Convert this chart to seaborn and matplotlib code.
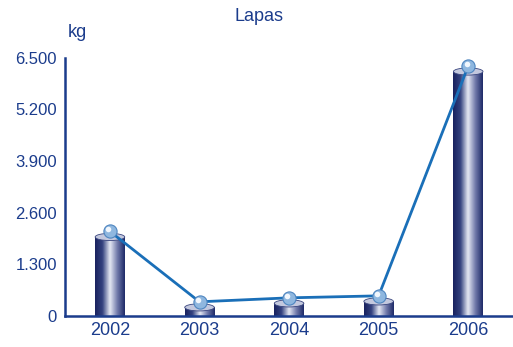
import numpy as np
import pandas as pd
import matplotlib
matplotlib.use('Agg')
import matplotlib.pyplot as plt
import matplotlib.transforms as mtransforms
from matplotlib.colors import LinearSegmentedColormap
from matplotlib.patches import Ellipse
import seaborn as sns

# данные
years = ['2002', '2003', '2004', '2005', '2006']
kg = [1990, 220, 320, 370, 6150]
y_ticks = [0, 1300, 2600, 3900, 5200, 6500]
y_labels = ['0', '1.300', '2.600', '3.900', '5.200', '6.500']

navy = '#1b3c8c'
line_blue = '#1a6fb8'

sns.set_style('white')
plt.rcParams['font.family'] = ['Liberation Sans', 'DejaVu Sans']

df = pd.DataFrame({'year': years, 'kg': kg})

fig = plt.figure(figsize=(5.13, 3.47), dpi=100)
ax = fig.add_axes([0.127, 0.089, 0.873, 0.745])

sns.barplot(data=df, x='year', y='kg', width=0.33, color='#1b2466',
            saturation=1, ax=ax, zorder=2)

# градиент "цилиндра"
cyl = LinearSegmentedColormap.from_list(
    'cyl', ['#18215e', '#34427f', '#e6e9f4', '#7079aa', '#1c2866'],
    N=256)
grad = np.linspace(0, 1, 256).reshape(1, -1)
for p in ax.patches:
    x0 = p.get_x()
    w = p.get_width()
    h = p.get_height()
    im = ax.imshow(grad, cmap=cyl, aspect='auto', extent=(x0, x0 + w, 0, h),
                   zorder=3, interpolation='bicubic')
    im.set_clip_path(p)
    cap = Ellipse((x0 + w / 2, h), w, 180, facecolor='#c3c8de',
                  edgecolor='#3a467f', linewidth=0.6, zorder=4)
    ax.add_patch(cap)

sns.pointplot(data=df, x='year', y='kg', color=line_blue, ax=ax,
              linewidth=2, markersize=0, zorder=5)
shift = mtransforms.ScaledTranslation(0, 4 / 72, fig.dpi_scale_trans)
for ln in ax.lines:
    ln.set_transform(ax.transData + shift)

# шарики
xs = np.arange(len(years))
ax.plot(xs, kg, 'o', markersize=9.5, markerfacecolor='#8fb7df',
        markeredgecolor='#4f86c0', markeredgewidth=0.8, zorder=6,
        transform=ax.transData + shift)
hl = mtransforms.ScaledTranslation(-1.2 / 72, 5.5 / 72, fig.dpi_scale_trans)
ax.plot(xs, kg, 'o', markersize=4, markerfacecolor='#f2f7fd',
        markeredgewidth=0, zorder=7, transform=ax.transData + hl)

ax.set_xlim(-0.5, 4.5)
ax.set_ylim(0, 6500)
ax.set_yticks(y_ticks)
ax.set_yticklabels(y_labels)
ax.set_xticks(xs)
ax.set_xticklabels(years)
ax.set_xlabel('')
ax.set_ylabel('')

ax.tick_params(axis='y', direction='in', length=7.5, width=1.5, color=navy,
               labelsize=12, labelcolor=navy, pad=6)
ax.tick_params(axis='x', length=0, labelsize=13, labelcolor=navy, pad=4)
ax.set_xticks([0.5, 1.5, 2.5, 3.5], minor=True)
ax.tick_params(axis='x', which='minor', direction='in', length=4, width=1.5,
               color=navy)

for s in ['top', 'right']:
    ax.spines[s].set_visible(False)
for s in ['left', 'bottom']:
    ax.spines[s].set_color(navy)
    ax.spines[s].set_linewidth(1.8)
    ax.spines[s].set_zorder(8)

fig.text(259 / 513, 1 - 21 / 347, 'Lapas', ha='center', va='baseline',
         fontsize=13, color=navy)
fig.text(77 / 513, 1 - 37 / 347, 'kg', ha='center', va='baseline',
         fontsize=13, color=navy)

fig.savefig('out.png', dpi=100)
